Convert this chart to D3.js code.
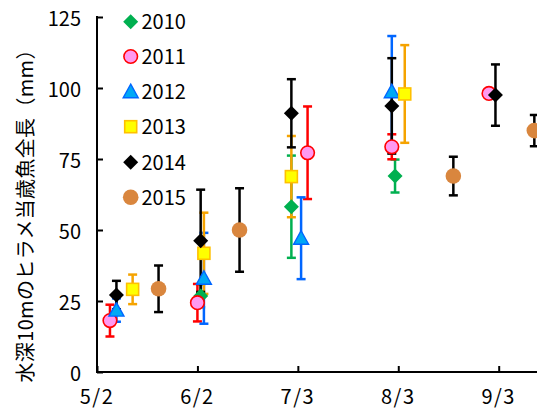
<!DOCTYPE html>
<html>
<head>
<meta charset="utf-8">
<script src="https://cdn.jsdelivr.net/npm/d3@7"></script>
<style>
  html, body { margin: 0; padding: 0; background: #fff; overflow: hidden; }
  svg { display: block; }
  text { font-family: "Noto Sans CJK JP", "Noto Sans", sans-serif; fill: #000; }
</style>
</head>
<body>
<svg id="chart" width="537" height="410"></svg>
<script>
// ---- data ----
const years = ["2010", "2011", "2012", "2013", "2014", "2015"];

const dates2010 = ["6/3", "7/1", "8/2"];
const mean2010  = [26.8, 58.2, 69.0];
const err2010   = [4.0, 18.0, 5.8];

const dates2011 = ["5/6", "6/2", "7/6", "8/1", "8/31"];
const mean2011  = [18.1, 24.4, 77.2, 79.3, 98.1];
const err2011   = [5.6, 6.6, 16.3, 4.4, 0];

const dates2012 = ["5/8", "6/4", "7/4", "8/1"];
const mean2012  = [21.8, 33.0, 47.1, 98.7];
const err2012   = [4.1, 16.0, 14.4, 19.6];

const dates2013 = ["5/13", "6/4", "7/1", "8/5"];
const mean2013  = [29.1, 41.8, 68.8, 97.9];
const err2013   = [5.2, 14.3, 14.3, 17.2];

const dates2014 = ["5/8", "6/3", "7/1", "8/1", "9/2"];
const mean2014  = [27.1, 46.2, 91.1, 93.7, 97.5];
const err2014   = [5.0, 18.0, 12.0, 16.8, 10.8];

const dates2015 = ["5/21", "6/15", "8/20", "9/14"];
const mean2015  = [29.3, 50.0, 69.0, 85.0];
const err2015   = [8.2, 14.7, 6.8, 5.5];

const xTickLabels = ["5/2", "6/2", "7/3", "8/3", "9/3"];
const yTickValues = [0, 25, 50, 75, 100, 125];
const yTitle = "水深10mのヒラメ当歳魚全長（mm）";

// ---- build ----
const parse = s => { const [m, d] = s.split("/").map(Number); return new Date(Date.UTC(2015, m - 1, d)); };
const seriesData = [
  [dates2010, mean2010, err2010],
  [dates2011, mean2011, err2011],
  [dates2012, mean2012, err2012],
  [dates2013, mean2013, err2013],
  [dates2014, mean2014, err2014],
  [dates2015, mean2015, err2015]
].map(([ds, ms, es], i) => ({
  year: years[i],
  points: ds.map((d, j) => ({ date: parse(d), v: ms[j], e: es[j] }))
}));

const styles = {
  "2010": { shape: "diamond", fill: "#00b050", stroke: "#00b050", bar: "#00b050" },
  "2011": { shape: "circle",  fill: "#ff99f0", stroke: "#ff0000", bar: "#ff0000" },
  "2012": { shape: "triangle",fill: "#00a8f5", stroke: "#0066ff", bar: "#0066ff" },
  "2013": { shape: "square",  fill: "#ffff00", stroke: "#ffc000", bar: "#f5a300" },
  "2014": { shape: "diamond", fill: "#000000", stroke: "#000000", bar: "#000000" },
  "2015": { shape: "bigcircle", fill: "#d9863e", stroke: "none", bar: "#000000" }
};

const svg = d3.select("#chart");
const x0 = 97, yBottom = 372, yTop = 17;
const x = d3.scaleUtc()
  .domain([parse("5/2"), parse("9/3")])
  .range([x0, 498.7]);
const y = d3.scaleLinear().domain([0, 125]).range([yBottom, yTop]);

// axes
const xTickDates = xTickLabels.map(parse);
const xAxis = d3.axisBottom(x).tickValues(xTickDates).tickSize(0).tickFormat("");
const gx = svg.append("g").attr("transform", `translate(0,${yBottom})`).call(xAxis);
gx.select(".domain").remove();
svg.append("line").attr("x1", x0).attr("x2", 537).attr("y1", yBottom).attr("y2", yBottom)
  .attr("stroke", "#000").attr("stroke-width", 2);
gx.selectAll(".tick").append("line").attr("y1", 0).attr("y2", -6).attr("stroke", "#000").attr("stroke-width", 2);
svg.selectAll(".xlabel").data(xTickDates).enter().append("text")
  .attr("x", d => x(d)).attr("y", 404)
  .attr("text-anchor", "middle").attr("font-size", 20).attr("letter-spacing", 1.5)
  .text((d, i) => xTickLabels[i]);

const yAxis = d3.axisLeft(y).tickValues(yTickValues).tickSize(0).tickFormat("");
const gy = svg.append("g").attr("transform", `translate(${x0},0)`).call(yAxis);
gy.select(".domain").remove();
svg.append("line").attr("x1", x0).attr("x2", x0).attr("y1", yTop - 1).attr("y2", yBottom + 1)
  .attr("stroke", "#000").attr("stroke-width", 2);
gy.selectAll(".tick").append("line").attr("x1", 0).attr("x2", 6).attr("stroke", "#000").attr("stroke-width", 2);
svg.selectAll(".ylabel").data(yTickValues).enter().append("text")
  .attr("x", 81).attr("y", d => y(d) + 9)
  .attr("text-anchor", "end").attr("font-size", 20)
  .text(d => d);

// y title
svg.append("text")
  .attr("transform", `translate(33,211) rotate(-90)`)
  .attr("text-anchor", "middle").attr("font-size", 20)
  .attr("textLength", 343).attr("lengthAdjust", "spacing")
  .text(yTitle);

// markers
function drawMarker(g, st) {
  switch (st.shape) {
    case "diamond":
      g.append("path").attr("d", "M0,-7.5L7.5,0L0,7.5L-7.5,0Z").attr("fill", st.fill).attr("stroke", "none");
      break;
    case "circle":
      g.append("circle").attr("r", 6.8).attr("fill", st.fill).attr("stroke", st.stroke).attr("stroke-width", 1.6);
      break;
    case "triangle":
      g.append("path").attr("d", "M0,-7.5L7.5,6L-7.5,6Z").attr("fill", st.fill).attr("stroke", st.stroke).attr("stroke-width", 1.4);
      break;
    case "square":
      g.append("rect").attr("x", -6).attr("y", -6).attr("width", 12).attr("height", 12)
        .attr("fill", st.fill).attr("stroke", st.stroke).attr("stroke-width", 1.6);
      break;
    case "bigcircle":
      g.append("circle").attr("r", 7.8).attr("fill", st.fill);
      break;
  }
}

// error bars (drawn under all markers)
const bars = svg.append("g");
seriesData.forEach(s => {
  const st = styles[s.year];
  s.points.filter(p => p.e > 0).forEach(p => {
    const cx = x(p.date), yt = y(p.v + p.e), yb = y(p.v - p.e);
    const g = bars.append("g").attr("stroke", st.bar).attr("stroke-width", 2.5);
    g.append("line").attr("x1", cx).attr("x2", cx).attr("y1", yt).attr("y2", yb);
    g.append("line").attr("x1", cx - 4.5).attr("x2", cx + 4.5).attr("y1", yt).attr("y2", yt);
    g.append("line").attr("x1", cx - 4.5).attr("x2", cx + 4.5).attr("y1", yb).attr("y2", yb);
  });
});

const marks = svg.append("g");
seriesData.forEach(s => {
  const st = styles[s.year];
  s.points.forEach(p => {
    const g = marks.append("g").attr("transform", `translate(${x(p.date)},${y(p.v)})`);
    drawMarker(g, st);
  });
});

// legend
const legendY = [21.7, 56.5, 91.7, 126.7, 162.2, 197.3];
years.forEach((yr, i) => {
  const g = svg.append("g").attr("transform", `translate(130.7,${legendY[i]})`);
  drawMarker(g, styles[yr]);
  svg.append("text").attr("x", 141.5).attr("y", legendY[i] + 7.5)
    .attr("font-size", 20).text(yr);
});
</script>
</body>
</html>
